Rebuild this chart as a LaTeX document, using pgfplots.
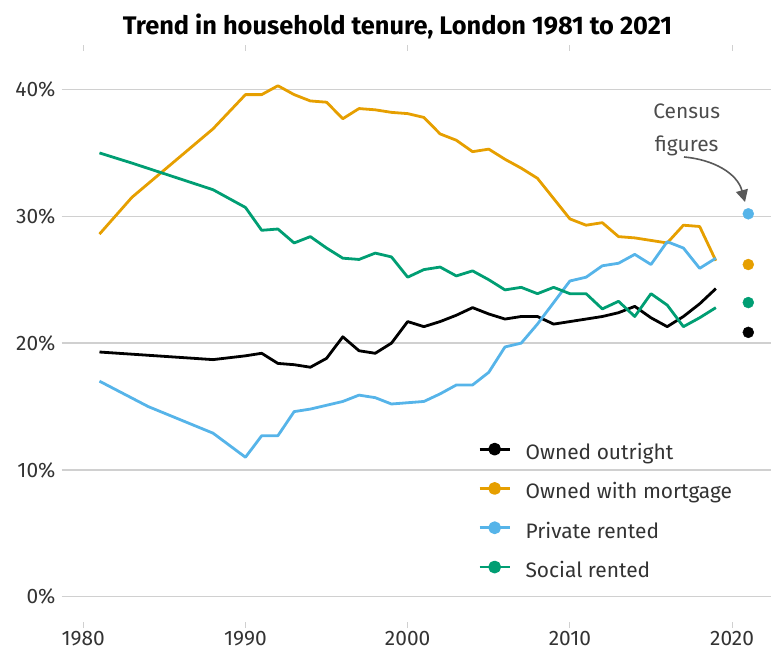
\documentclass[border=0pt]{standalone}
\usepackage{pgfplots}
\pgfplotsset{compat=1.18}
\usepackage{fontspec}
\setmainfont{Fira Sans}
\usetikzlibrary{arrows.meta}
\definecolor{cOut}{HTML}{000000}
\definecolor{cMort}{HTML}{E69F00}
\definecolor{cPriv}{HTML}{56B4E9}
\definecolor{cSoc}{HTML}{009E73}
\definecolor{txt}{HTML}{333333}
\definecolor{gridc}{HTML}{D0D0D0}
\begin{document}
\begin{tikzpicture}
\useasboundingbox (0,0) rectangle (771bp,651bp);
\begin{axis}[
  at={(61.7bp,28.9bp)}, anchor=south west,
  scale only axis, width=709.3bp, height=570.6bp,
  xmin=1978.67, xmax=2022.4, ymin=-2, ymax=43,
  clip=false,
  axis line style={draw=none},
  ymajorgrids, grid style={line width=1.3bp, color=gridc},
  xtick={1980,1990,2000,2010,2020},
  xticklabels={1980,1990,2000,2010,2020},
  ytick={0,10,20,30,40},
  yticklabels={0\%,10\%,20\%,30\%,40\%},
  tick align=outside,
  major tick length=6bp,
  xtick style={draw=gridc, line width=1bp},
  ytick style={draw=none},
  xticklabel style={anchor=center, inner sep=0pt, yshift=-10.6bp, text=txt, font=\fontsize{21}{25}\selectfont},
  yticklabel style={anchor=east, inner sep=0pt, xshift=0bp, text=txt, font=\fontsize{21}{25}\selectfont},
  legend style={at={(axis cs:2004.34,12.16)}, anchor=north west, draw=none, fill=none,
    inner sep=0pt, row sep=17.4bp, column sep=14.5bp,
    font=\fontsize{21}{25}\selectfont, text=txt,
    nodes={inner sep=0pt, text height=16bp, text depth=5bp}},
  legend cell align=left,
  legend image code/.code={\draw[#1, line width=2.8bp] (0bp,5bp) -- (30bp,5bp); \fill[#1] (15bp,5bp) circle (5bp);},
]
\addplot[color=cOut, no markers, line width=2.8bp, line join=round] coordinates {
(1981,19.3) (1988,18.7) (1990,19.0) (1991,19.2) (1992,18.4) (1993,18.3) (1994,18.1) (1995,18.8)
(1996,20.5) (1997,19.4) (1998,19.2) (1999,20.0) (2000,21.7) (2001,21.3) (2002,21.7) (2003,22.2)
(2004,22.8) (2005,22.3) (2006,21.9) (2007,22.1) (2008,22.1) (2009,21.5) (2010,21.7) (2011,21.9)
(2012,22.1) (2013,22.4) (2014,22.9) (2015,22.0) (2016,21.3) (2017,22.1) (2018,23.1) (2019,24.3)
};
\addlegendentry{Owned outright}
\addplot[color=cMort, no markers, line width=2.8bp, line join=round] coordinates {
(1981,28.6) (1983,31.5) (1988,36.9) (1990,39.6) (1991,39.6) (1992,40.3) (1993,39.6) (1994,39.1)
(1995,39.0) (1996,37.7) (1997,38.5) (1998,38.4) (1999,38.2) (2000,38.1) (2001,37.8) (2002,36.5)
(2003,36.0) (2004,35.1) (2005,35.3) (2006,34.5) (2007,33.8) (2008,33.0) (2009,31.4) (2010,29.8)
(2011,29.3) (2012,29.5) (2013,28.4) (2014,28.3) (2015,28.1) (2016,27.9) (2017,29.3) (2018,29.2)
(2019,26.5)
};
\addlegendentry{Owned with mortgage}
\addplot[color=cPriv, no markers, line width=2.8bp, line join=round] coordinates {
(1981,17.0) (1984,15.0) (1988,12.9) (1990,11.0) (1991,12.7) (1992,12.7) (1993,14.6) (1994,14.8)
(1995,15.1) (1996,15.4) (1997,15.9) (1998,15.7) (1999,15.2) (2000,15.3) (2001,15.4) (2002,16.0)
(2003,16.7) (2004,16.7) (2005,17.7) (2006,19.7) (2007,20.0) (2008,21.5) (2009,23.2) (2010,24.9)
(2011,25.2) (2012,26.1) (2013,26.3) (2014,27.0) (2015,26.2) (2016,28.0) (2017,27.5) (2018,25.9)
(2019,26.7)
};
\addlegendentry{Private rented}
\addplot[color=cSoc, no markers, line width=2.8bp, line join=round] coordinates {
(1981,35.0) (1983,34.2) (1988,32.1) (1990,30.7) (1991,28.9) (1992,29.0) (1993,27.9) (1994,28.4)
(1995,27.5) (1996,26.7) (1997,26.6) (1998,27.1) (1999,26.8) (2000,25.2) (2001,25.8) (2002,26.0)
(2003,25.3) (2004,25.7) (2005,25.0) (2006,24.2) (2007,24.4) (2008,23.9) (2009,24.4) (2010,23.9)
(2011,23.9) (2012,22.7) (2013,23.3) (2014,22.1) (2015,23.9) (2016,23.0) (2017,21.3) (2018,22.0)
(2019,22.8)
};
\addlegendentry{Social rented}
% Census 2021 figures
\addplot[forget plot, only marks, mark=*, mark size=5.5bp, color=cPriv] coordinates {(2021,30.2)};
\addplot[forget plot, only marks, mark=*, mark size=5.5bp, color=cMort] coordinates {(2021,26.2)};
\addplot[forget plot, only marks, mark=*, mark size=5.5bp, color=cSoc] coordinates {(2021,23.2)};
\addplot[forget plot, only marks, mark=*, mark size=5.5bp, color=cOut] coordinates {(2021,20.85)};
\end{axis}
\node[anchor=base, font=\bfseries\fontsize{25.5}{30}\selectfont] at (397.5bp,616bp) {Trend in household tenure, London 1981 to 2021};
\node[anchor=base, font=\fontsize{21}{25}\selectfont, text=black!70] at (686.7bp,532.7bp) {Census};
\node[anchor=base, font=\fontsize{21}{25}\selectfont, text=black!70] at (686.7bp,499.3bp) {figures};
\draw[black!65, line width=1.6bp, -{Triangle[width=12bp,length=12bp]}] (684bp,494bp) to[out=-5, in=105] (745bp,449bp);
\end{tikzpicture}
\end{document}
